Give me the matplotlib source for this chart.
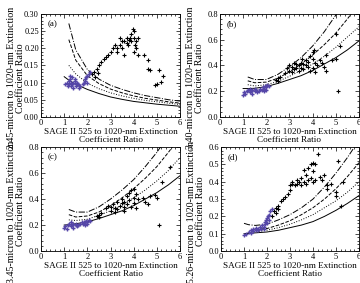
import numpy as np
import matplotlib
matplotlib.use("Agg")
import matplotlib.pyplot as plt
from matplotlib.ticker import AutoMinorLocator, FormatStrFormatter

plt.rcParams["font.family"] = ["Liberation Serif", "DejaVu Serif"]

nan = np.nan
BLUE = "#5546a8"

# model curves share one x grid (NaN where a curve is not drawn)
curve_x = [1.0, 1.2, 1.5, 2.0, 2.5, 3.0, 3.5, 4.0, 4.5, 5.0, 5.5, 6.0]

a_solid = [0.117, 0.107, 0.095, 0.080, 0.068, 0.058, 0.051, 0.045, 0.041, 0.037, 0.034, 0.031]
a_dotted = [nan, 0.150, 0.125, 0.098, 0.082, 0.070, 0.061, 0.054, 0.048, 0.044, 0.040, 0.036]
a_dashed = [nan, 0.225, 0.165, 0.120, 0.097, 0.081, 0.070, 0.061, 0.054, 0.049, 0.044, 0.040]
a_dashdot = [nan, 0.272, 0.195, 0.138, 0.110, 0.092, 0.080, 0.070, 0.062, 0.056, 0.050, 0.046]

b_solid = [0.22, 0.22, 0.222, 0.235, 0.26, 0.29, 0.32, 0.36, 0.41, 0.46, 0.52, 0.59]
b_dotted = [nan, 0.25, 0.24, 0.25, 0.275, 0.315, 0.36, 0.41, 0.47, 0.54, 0.62, 0.70]
b_dashed = [nan, 0.28, 0.265, 0.27, 0.30, 0.35, 0.41, 0.48, 0.56, 0.65, 0.76, 0.88]
b_dashdot = [nan, 0.31, 0.29, 0.29, 0.33, 0.39, 0.46, 0.55, 0.66, 0.79, 0.93, 1.10]

c_solid = [0.20, 0.203, 0.21, 0.225, 0.25, 0.28, 0.31, 0.35, 0.40, 0.45, 0.51, 0.58]
c_dotted = [nan, 0.24, 0.235, 0.245, 0.275, 0.31, 0.355, 0.41, 0.47, 0.54, 0.62, 0.72]
c_dashed = [nan, 0.28, 0.262, 0.27, 0.30, 0.35, 0.41, 0.48, 0.56, 0.65, 0.76, 0.88]
c_dashdot = [nan, 0.32, 0.30, 0.30, 0.34, 0.40, 0.47, 0.55, 0.65, 0.76, 0.89, 1.05]

d_solid = [0.10, 0.102, 0.105, 0.11, 0.12, 0.135, 0.15, 0.17, 0.20, 0.235, 0.275, 0.32]
d_dotted = [nan, 0.11, 0.112, 0.12, 0.135, 0.155, 0.18, 0.21, 0.25, 0.29, 0.34, 0.40]
d_dashed = [nan, nan, 0.125, 0.13, 0.15, 0.175, 0.21, 0.25, 0.30, 0.36, 0.43, 0.51]
d_dashdot = [0.16, 0.152, 0.148, 0.155, 0.18, 0.21, 0.25, 0.30, 0.37, 0.45, 0.54, 0.64]

# observations: black = high ratio, blue = low ratio
a_black_x = [2.2, 2.3, 2.35, 2.4, 2.45, 2.5, 2.6, 2.7, 2.8, 2.9, 3.0, 3.1, 3.2, 3.3, 3.3, 3.4, 3.4,
             3.5, 3.5, 3.6, 3.6, 3.7, 3.7, 3.75, 3.8, 3.85, 3.9, 3.9, 3.95, 4.0, 4.0, 4.0, 4.05,
             4.1, 4.1, 4.2, 4.2, 4.45, 4.6, 4.6, 4.7, 4.9, 5.0, 5.1, 5.2, 5.25]
a_black_y = [0.125, 0.13, 0.117, 0.14, 0.127, 0.15, 0.16, 0.17, 0.175, 0.18, 0.19, 0.20, 0.21, 0.19,
             0.20, 0.21, 0.23, 0.22, 0.20, 0.22, 0.18, 0.23, 0.215, 0.21, 0.225, 0.23, 0.24, 0.22,
             0.255, 0.25, 0.23, 0.19, 0.21, 0.20, 0.22, 0.23, 0.18, 0.18, 0.166, 0.14, 0.137,
             0.093, 0.096, 0.137, 0.103, 0.12]
a_blue_x = [1.05, 1.1, 1.15, 1.2, 1.2, 1.25, 1.25, 1.3, 1.3, 1.35, 1.35, 1.4, 1.4, 1.45, 1.45, 1.5,
            1.5, 1.55, 1.6, 1.65, 1.7, 1.8, 1.85, 1.9, 1.9, 1.95, 2.0, 2.0, 2.05, 2.1]
a_blue_y = [0.095, 0.10, 0.09, 0.105, 0.095, 0.11, 0.12, 0.10, 0.09, 0.095, 0.115, 0.10, 0.085,
            0.105, 0.11, 0.095, 0.09, 0.10, 0.095, 0.085, 0.09, 0.095, 0.10, 0.105, 0.11, 0.115,
            0.12, 0.10, 0.125, 0.13]

b_black_x = [2.4, 2.5, 2.5, 2.6, 2.8, 2.9, 3.0, 3.0, 3.1, 3.1, 3.2, 3.2, 3.3, 3.3, 3.4, 3.4, 3.5,
             3.5, 3.55, 3.6, 3.6, 3.7, 3.7, 3.8, 3.8, 3.9, 3.9, 4.0, 4.0, 4.0, 4.05, 4.1, 4.1,
             4.2, 4.3, 4.4, 4.5, 4.6, 4.6, 4.84, 5.0, 5.03, 5.17, 5.1]
b_black_y = [0.29, 0.30, 0.28, 0.31, 0.34, 0.38, 0.40, 0.36, 0.39, 0.35, 0.37, 0.42, 0.38, 0.41,
             0.40, 0.36, 0.42, 0.38, 0.45, 0.41, 0.37, 0.44, 0.40, 0.39, 0.43, 0.47, 0.36, 0.50,
             0.45, 0.38, 0.52, 0.35, 0.42, 0.40, 0.44, 0.42, 0.39, 0.36, 0.48, 0.44, 0.45, 0.64,
             0.55, 0.20]
b_blue_x = [1.0, 1.05, 1.1, 1.15, 1.2, 1.3, 1.3, 1.35, 1.4, 1.4, 1.5, 1.5, 1.55, 1.6, 1.7, 1.75,
            1.8, 1.85, 1.9, 1.9, 1.95, 2.0, 2.0, 2.05, 2.1]
b_blue_y = [0.17, 0.19, 0.18, 0.20, 0.21, 0.19, 0.22, 0.20, 0.21, 0.18, 0.20, 0.22, 0.21, 0.19,
            0.20, 0.22, 0.21, 0.23, 0.20, 0.22, 0.24, 0.21, 0.23, 0.25, 0.24]

c_black_x = [2.4, 2.5, 2.5, 2.6, 2.8, 2.9, 3.0, 3.0, 3.1, 3.2, 3.2, 3.3, 3.3, 3.4, 3.5, 3.5, 3.6,
             3.6, 3.6, 3.7, 3.7, 3.8, 3.8, 3.9, 3.9, 4.0, 4.0, 4.0, 4.1, 4.1, 4.2, 4.4, 4.5, 4.6,
             4.7, 4.9, 5.0, 5.22, 5.57, 5.1]
c_black_y = [0.27, 0.28, 0.26, 0.29, 0.33, 0.35, 0.34, 0.31, 0.36, 0.33, 0.30, 0.38, 0.32, 0.35,
             0.40, 0.37, 0.38, 0.34, 0.31, 0.42, 0.36, 0.45, 0.39, 0.47, 0.34, 0.48, 0.41, 0.37,
             0.44, 0.33, 0.40, 0.41, 0.38, 0.36, 0.42, 0.43, 0.41, 0.53, 0.65, 0.20]
c_blue_x = [1.0, 1.05, 1.1, 1.15, 1.2, 1.3, 1.3, 1.35, 1.4, 1.4, 1.5, 1.5, 1.55, 1.6, 1.7, 1.75,
            1.8, 1.85, 1.9, 1.9, 1.95, 2.0, 2.0, 2.05, 2.1]
c_blue_y = [0.18, 0.19, 0.17, 0.20, 0.21, 0.19, 0.22, 0.20, 0.21, 0.18, 0.20, 0.21, 0.19, 0.20,
            0.21, 0.22, 0.21, 0.22, 0.20, 0.22, 0.23, 0.21, 0.22, 0.24, 0.23]

d_black_x = [2.2, 2.3, 2.4, 2.4, 2.5, 2.5, 2.6, 2.7, 2.8, 2.9, 3.0, 3.0, 3.1, 3.1, 3.2, 3.3, 3.3,
             3.4, 3.5, 3.5, 3.6, 3.6, 3.7, 3.7, 3.8, 3.8, 3.9, 3.9, 4.0, 4.0, 4.0, 4.1, 4.1, 4.2,
             4.3, 4.4, 4.5, 4.6, 4.6, 4.8, 5.0, 5.0, 5.1, 5.2, 5.3]
d_black_y = [0.20, 0.23, 0.25, 0.22, 0.26, 0.24, 0.29, 0.30, 0.31, 0.33, 0.38, 0.35, 0.39, 0.40,
             0.38, 0.41, 0.39, 0.40, 0.42, 0.38, 0.40, 0.47, 0.44, 0.39, 0.48, 0.41, 0.50, 0.42,
             0.51, 0.40, 0.46, 0.50, 0.41, 0.56, 0.43, 0.41, 0.44, 0.38, 0.36, 0.39, 0.34, 0.32,
             0.52, 0.26, 0.40]
d_blue_x = [1.0, 1.1, 1.2, 1.3, 1.3, 1.4, 1.4, 1.5, 1.5, 1.6, 1.6, 1.7, 1.75, 1.8, 1.85, 1.85,
            1.9, 1.9, 1.95, 2.0, 2.0, 2.05, 2.1, 2.1, 2.15, 2.2]
d_blue_y = [0.09, 0.10, 0.11, 0.12, 0.105, 0.13, 0.115, 0.12, 0.135, 0.13, 0.12, 0.14, 0.125,
            0.15, 0.14, 0.13, 0.17, 0.155, 0.18, 0.19, 0.16, 0.20, 0.21, 0.18, 0.23, 0.24]

panels = [
    ("(a)", "2.45-micron", (0, 0.30), 0.05, "%.2f",
     [a_solid, a_dotted, a_dashed, a_dashdot], a_black_x, a_black_y, a_blue_x, a_blue_y),
    ("(b)", "3.40-micron", (0, 0.8), 0.2, "%.1f",
     [b_solid, b_dotted, b_dashed, b_dashdot], b_black_x, b_black_y, b_blue_x, b_blue_y),
    ("(c)", "3.45-micron", (0, 0.8), 0.2, "%.1f",
     [c_solid, c_dotted, c_dashed, c_dashdot], c_black_x, c_black_y, c_blue_x, c_blue_y),
    ("(d)", "5.26-micron", (0, 0.6), 0.1, "%.1f",
     [d_solid, d_dotted, d_dashed, d_dashdot], d_black_x, d_black_y, d_blue_x, d_blue_y),
]
styles = ["-", ":", "--", "-."]

fig = plt.figure(figsize=(3.6, 2.83), dpi=100)
rects = [
    [0.114, 0.587, 0.386, 0.364],
    [0.611, 0.587, 0.386, 0.364],
    [0.114, 0.113, 0.386, 0.367],
    [0.614, 0.113, 0.383, 0.367],
]

for rect, (tag, wl, ylim, ystep, fmt, curves, bx, by, ux, uy) in zip(rects, panels):
    ax = fig.add_axes(rect)
    for ys, ls in zip(curves, styles):
        ax.plot(curve_x, ys, ls, color="black", lw=0.7)
    ax.plot(bx, by, "+", color="black", ms=3.5, mew=0.8)
    ax.plot(ux, uy, "+", color=BLUE, ms=3.5, mew=1.0)
    ax.set_xlim(0, 6)
    ax.set_ylim(*ylim)
    ax.set_xticks(range(7))
    ax.set_yticks(np.arange(ylim[0], ylim[1] + ystep / 2, ystep))
    ax.yaxis.set_major_formatter(FormatStrFormatter(fmt))
    ax.xaxis.set_minor_locator(AutoMinorLocator(5))
    ax.yaxis.set_minor_locator(AutoMinorLocator(5))
    ax.tick_params(which="both", direction="in", top=True, right=True,
                   labelsize=6, pad=1.5, width=0.5)
    ax.tick_params(which="major", length=3)
    ax.tick_params(which="minor", length=1.5)
    for sp in ax.spines.values():
        sp.set_linewidth(0.6)
    ax.text(0.05, 0.9, tag, transform=ax.transAxes, fontsize=6.5, va="center")
    ax.set_xlabel("SAGE II 525 to 1020-nm Extinction\nCoefficient Ratio",
                  fontsize=6.6, labelpad=0.5, linespacing=1.0)
    ax.set_ylabel(f"{wl} to 1020-nm Extinction\nCoefficient Ratio",
                  fontsize=7.2, linespacing=1.05)
    ax.yaxis.set_label_coords(-0.115, 0.38)

fig.savefig("out.png", dpi=100)
